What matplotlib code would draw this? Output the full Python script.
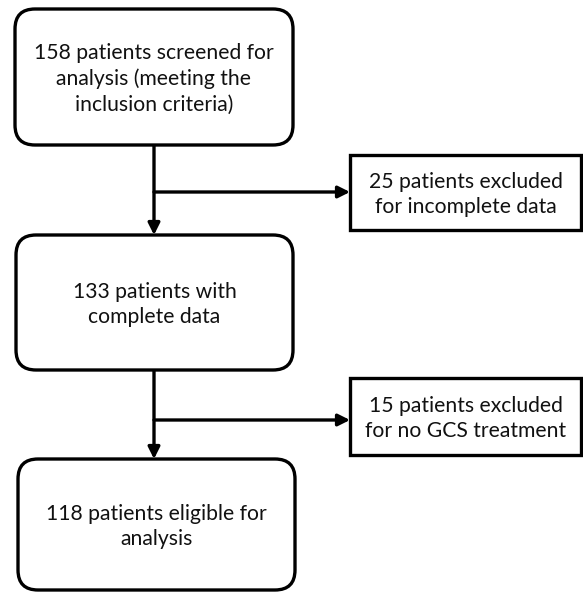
import matplotlib
matplotlib.use("Agg")
import matplotlib.pyplot as plt
from matplotlib.patches import FancyBboxPatch, Rectangle

plt.rcParams["font.family"] = ["Lato", "DejaVu Sans"]

# flow steps (main column) and exclusions (side boxes)
main_labels = [
    "158 patients screened for\nanalysis (meeting the\ninclusion criteria)",
    "133 patients with\ncomplete data",
    "118 patients eligible for\nanalysis",
]
side_labels = [
    "25 patients excluded\nfor incomplete data",
    "15 patients excluded\nfor no GCS treatment",
]

# layout in pixel coordinates (x0, y0, x1, y1)
main_boxes = [(15, 9, 293, 145), (16, 235, 293, 370), (18, 459, 295, 590)]
side_boxes = [(350, 155, 581, 230), (350, 378, 581, 455)]
spine_x = 154
branch_y = [192, 420]

fig = plt.figure(figsize=(5.83, 5.93), dpi=100)
ax = fig.add_axes([0, 0, 1, 1])
ax.set_xlim(0, 583)
ax.set_ylim(593, 0)
ax.axis("off")

LW = 2.4
FS = 15.2
LS = 1.33

for (x0, y0, x1, y1), txt in zip(main_boxes, main_labels):
    ax.add_patch(FancyBboxPatch((x0, y0), x1 - x0, y1 - y0,
                                boxstyle="round,pad=0,rounding_size=20",
                                fc="white", ec="black", lw=LW, zorder=2))
    ax.text((x0 + x1) / 2, (y0 + y1) / 2 + 2, txt, ha="center", va="center",
            fontsize=FS, linespacing=LS, color="#111111", zorder=3)

for (x0, y0, x1, y1), txt in zip(side_boxes, side_labels):
    ax.add_patch(Rectangle((x0, y0), x1 - x0, y1 - y0,
                           fc="white", ec="black", lw=LW, zorder=2))
    ax.text((x0 + x1) / 2, (y0 + y1) / 2 + 2, txt, ha="center", va="center",
            fontsize=FS, linespacing=LS, color="#111111", zorder=3)

arrow = dict(arrowstyle="-|>,head_length=0.7,head_width=0.35",
             color="black", lw=LW, shrinkA=0, shrinkB=0)

# vertical arrows between main boxes
for upper, lower in zip(main_boxes[:-1], main_boxes[1:]):
    ax.annotate("", xy=(spine_x, lower[1]), xytext=(spine_x, upper[3]),
                arrowprops=arrow, zorder=1)

# horizontal branches to exclusion boxes
for y, box in zip(branch_y, side_boxes):
    ax.annotate("", xy=(box[0], y), xytext=(spine_x, y),
                arrowprops=arrow, zorder=1)

fig.savefig("out.png", dpi=100, facecolor="white")
